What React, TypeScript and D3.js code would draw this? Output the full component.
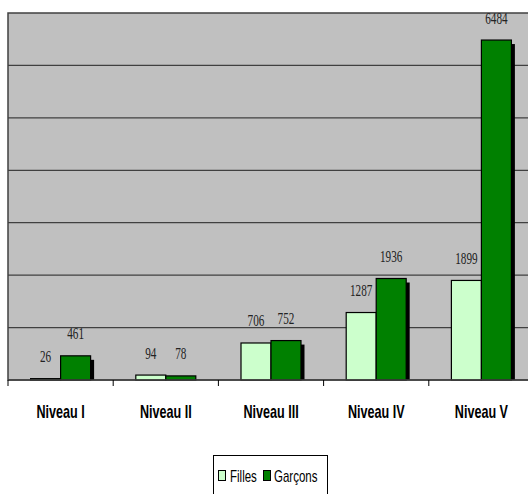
import React from "react";
import * as d3 from "d3";

const categories = ["Niveau I", "Niveau II", "Niveau III", "Niveau IV", "Niveau V"];
const seriesNames = ["Filles", "Garçons"];
const filles = [26, 94, 706, 1287, 1899];
const garcons = [461, 78, 752, 1936, 6484];
const seriesColors = ["#CCFFCC", "#008000"];
const yTicks = [0, 1000, 2000, 3000, 4000, 5000, 6000, 7000];

export default function App() {
  const W = 528, H = 494;
  const left = 8, right = 534, top = 13, bottom = 380;
  const x = d3.scaleBand<string>().domain(categories).range([left, right]).padding(0);
  const bw = x.bandwidth();
  const xs = d3.scaleBand<string>().domain(seriesNames).range([bw / 2 - 30, bw / 2 + 30]).padding(0);
  const y = d3.scaleLinear().domain([0, 7000]).range([bottom, top]);
  const data = [filles, garcons];
  const boundaries = d3.range(categories.length + 1).map((i) => left + i * bw);

  return (
    <svg width={W} height={H} style={{ position: "absolute", left: 0, top: 0, background: "#fff" }}>
      <defs>
        <clipPath id="plotclip">
          <rect x={left} y={0} width={W - left} height={bottom} />
        </clipPath>
      </defs>
      <rect x={left} y={top} width={right - left} height={bottom - top} fill="#C0C0C0" stroke="#404040" strokeWidth={1.5} />
      {yTicks.slice(1, -1).map((t) => (
        <line key={t} x1={left} x2={W} y1={y(t)} y2={y(t)} stroke="#404040" strokeWidth={1.2} />
      ))}
      <g clipPath="url(#plotclip)">
        {categories.map((c, i) =>
          seriesNames.map((s, j) => {
            const v = data[j][i];
            const bx = (x(c) as number) + (xs(s) as number);
            return (
              <rect key={"sh" + c + s} x={bx + 3.5} y={y(v) + 4} width={xs.bandwidth()} height={bottom - y(v)} fill="#000" />
            );
          })
        )}
      </g>
      {categories.map((c, i) =>
        seriesNames.map((s, j) => {
          const v = data[j][i];
          const bx = (x(c) as number) + (xs(s) as number);
          return (
            <rect key={c + s} x={bx} y={y(v)} width={xs.bandwidth()} height={bottom - y(v)} fill={seriesColors[j]} stroke="#000" strokeWidth={1.2} />
          );
        })
      )}
      <line x1={left} x2={W} y1={bottom} y2={bottom} stroke="#404040" strokeWidth={1.5} />
      {boundaries.map((b, i) => (
        <line key={"tk" + i} x1={b} x2={b} y1={bottom} y2={bottom + 6} stroke="#000" strokeWidth={1} />
      ))}
      {categories.map((c, i) =>
        seriesNames.map((s, j) => {
          const v = data[j][i];
          const cx = (x(c) as number) + (xs(s) as number) + xs.bandwidth() / 2;
          return (
            <text key={"lb" + c + s} transform={`translate(${cx},${y(v) - 16.5}) scale(0.7,1)`} textAnchor="middle"
              fontFamily="'Liberation Serif', 'Times New Roman', serif" fontSize={16} fill="#222">
              {v}
            </text>
          );
        })
      )}
      {categories.map((c) => (
        <text key={"cat" + c} transform={`translate(${(x(c) as number) + bw / 2},${418}) scale(0.7,1)`} textAnchor="middle"
          fontFamily="'Liberation Sans', Arial, sans-serif" fontSize={18} fontWeight="bold" fill="#000">
          {c}
        </text>
      ))}
      <rect x={213.5} y={455.5} width={114} height={40} fill="#fff" stroke="#000" strokeWidth={1} />
      <rect x={218.5} y={470.5} width={7} height={10} fill={seriesColors[0]} stroke="#000" strokeWidth={1} />
      <text transform={`translate(230,481.5) scale(0.72,1)`} fontFamily="'Liberation Sans', Arial, sans-serif" fontSize={16} fill="#000">
        {seriesNames[0]}
      </text>
      <rect x={263.5} y={470.5} width={7} height={10} fill={seriesColors[1]} stroke="#000" strokeWidth={1} />
      <text transform={`translate(274,481.5) scale(0.72,1)`} fontFamily="'Liberation Sans', Arial, sans-serif" fontSize={16} fill="#000">
        {seriesNames[1]}
      </text>
    </svg>
  );
}
